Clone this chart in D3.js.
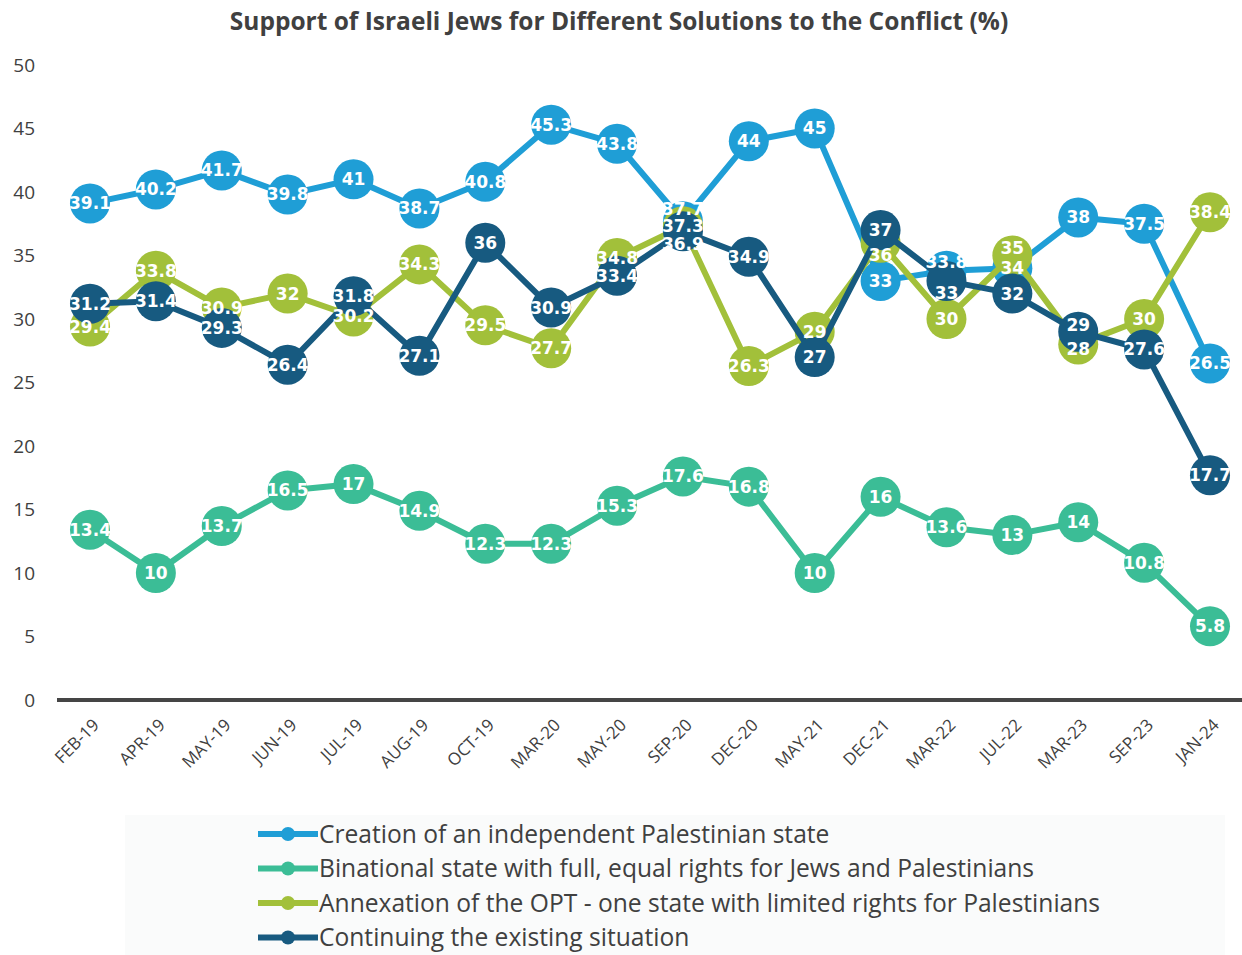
<!DOCTYPE html>
<html lang="en">
<head>
<meta charset="utf-8">
<title>Support of Israeli Jews for Different Solutions</title>
<script src="https://cdn.jsdelivr.net/npm/d3@7"></script>
<style>
  body { margin: 0; background: #fff; }
  svg { display: block; }
  .tick-y { font-family: "Open Sans", sans-serif; font-size: 19px; fill: #404040; }
  .tick-x { font-family: "Open Sans", sans-serif; font-size: 17px; fill: #404040; }
  .dlabel { font-family: "DejaVu Sans", sans-serif; font-weight: bold; font-size: 17px; fill: #fff; }
  .legend-text { font-family: "Open Sans", sans-serif; font-size: 24.6px; fill: #404040; }
</style>
</head>
<body>
<div id="chart"></div>
<script>
var categories = ["FEB-19","APR-19","MAY-19","JUN-19","JUL-19","AUG-19","OCT-19","MAR-20","MAY-20",
                  "SEP-20","DEC-20","MAY-21","DEC-21","MAR-22","JUL-22","MAR-23","SEP-23","JAN-24"];

var creation    = [39.1, 40.2, 41.7, 39.8, 41, 38.7, 40.8, 45.3, 43.8, 37.7, 44, 45, 33, 33.8, 34, 38, 37.5, 26.5];
var binational  = [13.4, 10, 13.7, 16.5, 17, 14.9, 12.3, 12.3, 15.3, 17.6, 16.8, 10, 16, 13.6, 13, 14, 10.8, 5.8];
var annexation  = [29.4, 33.8, 30.9, 32, 30.2, 34.3, 29.5, 27.7, 34.8, 37.3, 26.3, 29, 36, 30, 35, 28, 30, 38.4];
var continuing  = [31.2, 31.4, 29.3, 26.4, 31.8, 27.1, 36, 30.9, 33.4, 36.9, 34.9, 27, 37, 33, 32, 29, 27.6, 17.7];

var seriesNames = ["Creation of an independent Palestinian state",
                   "Binational state with full, equal rights for Jews and Palestinians",
                   "Annexation of the OPT - one state with limited rights for Palestinians",
                   "Continuing the existing situation"];
var yTicks = [0, 5, 10, 15, 20, 25, 30, 35, 40, 45, 50];

var colors = ["#1f9ed6", "#3bbd96", "#a2c03a", "#175a80"];

// labels that were nudged apart in the original where points overlap (px)
var nudges = [{9: -12, 13: -9}, {}, {12: 12, 14: -7, 15: 5}, {9: 13, 13: 12, 15: -7}];

var width = 1242, height = 955;

var svg = d3.select("#chart").append("svg")
    .attr("width", width)
    .attr("height", height);

var x = d3.scalePoint().domain(categories).range([90, 1210]);
var y = d3.scaleLinear().domain([0, 50]).range([700, 65]);

// title
svg.append("text")
    .attr("x", 619).attr("y", 30)
    .attr("text-anchor", "middle")
    .style("font-family", "'Open Sans', sans-serif")
    .style("font-weight", "bold")
    .style("font-size", "24.5px")
    .style("fill", "#404040")
    .text("Support of Israeli Jews for Different Solutions to the Conflict (%)");

// y axis labels
svg.selectAll(".tick-y")
    .data(yTicks)
  .enter().append("text")
    .attr("class", "tick-y")
    .attr("x", 35)
    .attr("y", function(d) { return y(d); })
    .attr("dy", "0.35em")
    .attr("text-anchor", "end")
    .text(function(d) { return d; });

// baseline
svg.append("line")
    .attr("x1", 57).attr("x2", 1242)
    .attr("y1", y(0)).attr("y2", y(0))
    .attr("stroke", "#454545")
    .attr("stroke-width", 4);

// x labels
svg.selectAll(".tick-x")
    .data(categories)
  .enter().append("text")
    .attr("class", "tick-x")
    .attr("text-anchor", "end")
    .attr("transform", function(d) { return "translate(" + (x(d) + 6) + "," + 722 + ") rotate(-45)"; })
    .attr("dy", "0.35em")
    .text(function(d) { return d; });

var allSeries = [creation, binational, annexation, continuing];

var line = d3.line()
    .x(function(d, i) { return x(categories[i]); })
    .y(function(d) { return y(d); });

allSeries.forEach(function(vals, s) {
  var g = svg.append("g");
  g.append("path")
      .datum(vals)
      .attr("d", line)
      .attr("fill", "none")
      .attr("stroke", colors[s])
      .attr("stroke-width", 6)
      .attr("stroke-linejoin", "round");
  g.selectAll("circle")
      .data(vals)
    .enter().append("circle")
      .attr("cx", function(d, i) { return x(categories[i]); })
      .attr("cy", function(d) { return y(d); })
      .attr("r", 20)
      .attr("fill", colors[s]);
});

allSeries.forEach(function(vals, s) {
  svg.append("g").selectAll("text")
      .data(vals)
    .enter().append("text")
      .attr("class", "dlabel")
      .attr("x", function(d, i) { return x(categories[i]); })
      .attr("y", function(d, i) { return y(d) + (nudges[s][i] || 0); })
      .attr("dy", "0.35em")
      .attr("text-anchor", "middle")
      .text(function(d) { return d; });
});

// legend
svg.append("rect")
    .attr("x", 125).attr("y", 815)
    .attr("width", 1100).attr("height", 140)
    .attr("fill", "#fafbfb");

var legend = svg.selectAll(".legend")
    .data(seriesNames)
  .enter().append("g")
    .attr("transform", function(d, i) { return "translate(0," + (834 + i * 34.5) + ")"; });

legend.append("line")
    .attr("x1", 258).attr("x2", 318)
    .attr("stroke", function(d, i) { return colors[i]; })
    .attr("stroke-width", 6);

legend.append("circle")
    .attr("cx", 288).attr("r", 7)
    .attr("fill", function(d, i) { return colors[i]; });

legend.append("text")
    .attr("class", "legend-text")
    .attr("x", 319)
    .attr("dy", "0.35em")
    .text(function(d) { return d; });
</script>
</body>
</html>
